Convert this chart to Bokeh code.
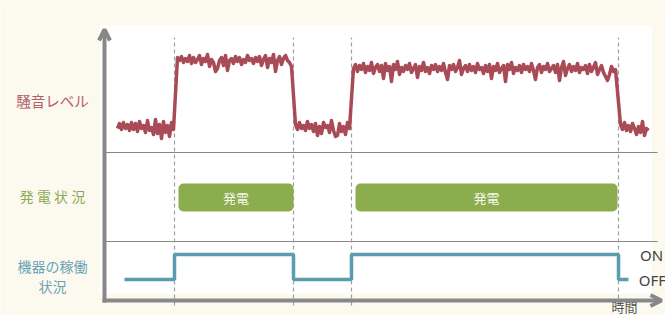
from bokeh.plotting import figure
from bokeh.models import Range1d, Arrow, OpenHead, ColumnDataSource
from bokeh.core.properties import value
from bokeh.embed import file_html
from bokeh.resources import INLINE

# ---------------- data ----------------
# noise level samples (time step 2)
low1_start = 13
low1 = [172,177,171,178,172,176,170,178,171,177,169,179,172,175,168,180,170,173,166,181,167,176,162,179,168,175,164,178,171]
high1_start = 73
high1 = [243,240,244,238,242,239,245,237,243,238,241,245,236,242,239,246,234,241,238,229,232,240,243,235,245,230,240,242,237,244,
         239,243,236,241,238,245,240,242,237,243,239,244,235,241,245,233,242,238,246,229,240,244,236,242,245,240,238,234]
low2_start = 191
low2 = [176,171,178,172,175,170,179,172,176,169,177,165,174,167,178,173,175,168,180,170,164,165,177,169,174,166,178,172]
high2_start = 249
high2 = [232,236,229,235,231,237,228,234,230,238,227,233,236,229,235,222,237,230,234,219,236,231,239,226,233,229,235,231,237,228,
         232,236,223,234,230,238,229,233,227,235,231,236,229,234,230,237,228,221,235,231,236,229,233,240,226,232,235,229,236,230,
         234,228,237,231,233,227,235,229,236,222,234,230,237,228,232,235,219,236,231,238,227,233,230,235,228,236,231,234,229,237,
         230,221,233,236,228,234,231,237,229,232,235,228,236,220,233,239,225,232,236,229,234,230,237,228,233,231,235,227,236,229,
         233,238,226,231,235,228,224,220,226,234,229,231]
low3_start = 516
low3 = [176,171,178,170,175,169,177,172,166,174,168,179,165,172,170]

# machine status (0 = OFF, 1 = ON)
status_t = [20, 70, 70, 189, 189, 247, 247, 514, 514, 524]
status_v = [0, 0, 1, 1, 0, 0, 1, 1, 0, 0]

# generation periods
gen_start = [74, 251]
gen_end = [189, 513]
gen_label = ["発電", "発電"]

# event times (dashed markers)
events = [70, 189, 247, 514]

row_labels = ["騒音レベル", "発 電 状 況", "機器の稼働", "状況"]
state_labels = ["ON", "OFF"]
time_label = "時間"

# ---------------- build ----------------
noise_t, noise_v = [], []
for start, seg in [(low1_start, low1), (high1_start, high1), (low2_start, low2), (high2_start, high2), (low3_start, low3)]:
    for i, v in enumerate(seg):
        noise_t.append(start + 2 * i)
        noise_v.append(v)

BG = "#FCFAEE"
GRAY = "#888888"
RED = "#A94B57"
GREEN = "#8BAD4E"
TEAL = "#5A9DB0"
FONT = value("Noto Sans CJK JP")

p = figure(width=665, height=315, x_range=Range1d(-104, 561), y_range=Range1d(-15, 300),
           output_backend="svg", toolbar_location=None, min_border=0)
p.axis.visible = False
p.grid.visible = False
p.outline_line_color = None
p.background_fill_color = BG
p.border_fill_color = BG
p.extra_y_ranges = {"status": Range1d(-36 / 25, 279 / 25)}

# white plot panel
p.quad(left=[-5], right=[547], bottom=[7], top=[275], fill_color="white", line_color=None)

# separators
p.segment(x0=[0, 0], x1=[553, 553], y0=[148, 59], y1=[148, 59], line_color=GRAY, line_width=1)

# event dashed lines
p.segment(x0=events, x1=events, y0=[-5] * len(events), y1=[263] * len(events),
          line_color="#A0A0A0", line_width=1.2, line_dash="4 3")

# noise
p.line(noise_t, noise_v, line_color=RED, line_width=3.5, line_join="round")

# generation bars
gsrc = ColumnDataSource(dict(l=gen_start, r=gen_end, lab=gen_label,
                             mid=[(a + b) / 2 for a, b in zip(gen_start, gen_end)]))
p.quad(left="l", right="r", bottom=89, top=117, source=gsrc, fill_color=GREEN,
       line_color=None, border_radius=5)
p.text(x="mid", y=103, text="lab", source=gsrc, text_color="#F4F7EC", text_font=FONT,
       text_font_size=value("13px"), text_align="center", text_baseline="middle")

# status line
p.line(status_t, status_v, y_range_name="status", line_color=TEAL, line_width=3.5)
p.text(x=[547, 548], y=[1, 0], text=state_labels, y_range_name="status", text_color="#444444",
       text_font=value("Noto Sans"), text_font_size=value("15px"), text_align="center",
       text_baseline="middle")

# axes arrows
p.add_layout(Arrow(end=OpenHead(size=11, line_color=GRAY, line_width=4),
                   x_start=0, y_start=-2, x_end=0, y_end=271, line_color=GRAY, line_width=4))
p.add_layout(Arrow(end=OpenHead(size=11, line_color=GRAY, line_width=4),
                   x_start=-2, y_start=0, x_end=557, y_end=0, line_color=GRAY, line_width=4))

# labels
p.text(x=[-52], y=[200], text=[row_labels[0]], text_color="#B4606B", text_font=FONT,
       text_font_size=value("14.5px"), text_align="center", text_baseline="middle")
p.text(x=[-52], y=[105], text=[row_labels[1]], text_color="#8AAB55", text_font=FONT,
       text_font_size=value("14px"), text_align="center", text_baseline="middle")
p.text(x=[-52, -52], y=[35, 15], text=row_labels[2:], text_color="#6AA3B8", text_font=FONT,
       text_font_size=value("14px"), text_align="center", text_baseline="middle")
p.text(x=[520], y=[-15], text=[time_label], text_color="#555555", text_font=FONT,
       text_font_size=value("13px"), text_align="center", text_baseline="bottom")

html = file_html(p, INLINE)
html = html.replace("<body>", '<body style="background-color:%s;">' % BG, 1)
open("out.html", "w").write(html)
